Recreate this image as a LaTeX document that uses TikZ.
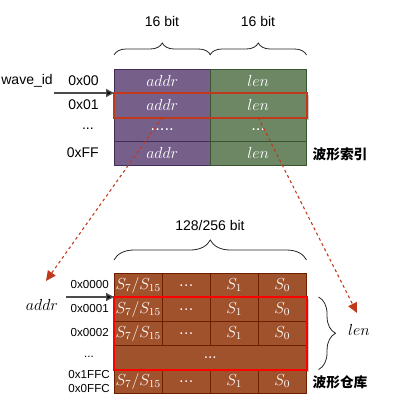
\documentclass[tikz,border=0pt]{standalone}
\usepackage{fontspec}
\setmainfont{Liberation Sans}
\newfontfamily\cjk{Noto Sans CJK SC}
\usetikzlibrary{arrows.meta,decorations.pathreplacing,backgrounds}

\definecolor{addrfill}{HTML}{76608A}
\definecolor{addrline}{HTML}{432D57}
\definecolor{lenfill}{HTML}{6D8764}
\definecolor{lenline}{HTML}{3A5431}
\definecolor{wavefill}{HTML}{A0522D}
\definecolor{waveline}{HTML}{6D1F00}
\definecolor{linkred}{HTML}{C0391B}
\definecolor{boxred}{HTML}{FF0000}

\tikzset{
  addrcell/.style={draw=addrline, fill=addrfill, text=white, anchor=north west,
    minimum width=72pt, minimum height=18pt, inner sep=0pt, font=\fontsize{12.5}{14}\selectfont},
  lencell/.style={addrcell, draw=lenline, fill=lenfill},
  wavecell/.style={draw=waveline, fill=wavefill, text=white, anchor=north west,
    minimum width=36pt, minimum height=18pt, inner sep=0pt, font=\fontsize{11.5}{13}\selectfont},
  bitlabel/.style={font=\fontsize{10.5}{12}\selectfont, inner sep=0pt},
  idlabel/.style={font=\fontsize{10.5}{12}\selectfont, inner sep=0pt, anchor=east},
  hexlabel/.style={font=\fontsize{8.7}{10}\selectfont, inner sep=0pt, anchor=east},
  namelabel/.style={font=\cjk\bfseries\fontsize{10.3}{12}\selectfont, inner sep=0pt},
  mathlabel/.style={font=\fontsize{12.5}{14}\selectfont, inner sep=0pt},
  bitbrace/.style={draw=black!85, line width=0.6pt, decorate, decoration={brace, amplitude=#1}},
  ptrarrow/.style={draw=black!70, line width=1pt, -{Triangle[length=6pt,width=6pt,fill=black]}},
  linkarrow/.style={draw=linkred, line width=0.8pt, dash pattern=on 2.2pt off 2.2pt,
    -{Triangle[length=7.5pt,width=7pt,fill=linkred]}},
}

\begin{document}
\begin{tikzpicture}[x=0.75pt,y=-0.75pt]
\useasboundingbox (0,0) rectangle (396,414);

% index table
\foreach \r/\y in {0/69, 1/93, 3/141} {
  \node[addrcell] (a\r) at (114,\y) {$addr$};
  \node[lencell] (l\r) at (210,\y) {$len$};
}
\node[addrcell] (a2) at (114,117) {.....};
\node[lencell] (l2) at (210,117) {...};

\node[bitlabel] (abits) at (162,21) {16 bit};
\node[bitlabel] (lbits) at (258,21) {16 bit};
\draw[bitbrace=9pt] ([yshift=10.5pt]a0.north west) -- ([yshift=10.5pt]a0.north east);
\draw[bitbrace=9pt] ([yshift=10.5pt]l0.north west) -- ([yshift=10.5pt]l0.north east);

\node[idlabel] (waveid) at (53,81) {wave\_id};
\node[idlabel] (id0) at (99,81) {0x00};
\node[idlabel] (id1) at (99,105) {0x01};
\node[idlabel] (id2) at (94,129) {...};
\node[idlabel] (id3) at (99,153) {0xFF};
\node[namelabel] (indexname) at (340,154) {波形索引};

\coordinate (idstart) at (54,93);
\draw[ptrarrow] (idstart) -- (a1.north west);

% wave storage
\foreach \r/\y in {0/273, 1/297, 2/321, 4/369} {
  \node[wavecell] (wa\r) at (114,\y) {$S_7/S_{15}$};
  \node[wavecell] (wb\r) at (162,\y) {\ldots};
  \node[wavecell] (wc\r) at (210,\y) {$S_1$};
  \node[wavecell] (wd\r) at (258,\y) {$S_0$};
}
\node[wavecell, minimum width=144pt] (w3) at (114,345) {...};

\node[bitlabel] (wbits) at (210,225) {128/256 bit};
\draw[bitbrace=15pt] ([yshift=9.75pt]wa0.north west) -- ([yshift=9.75pt]wd0.north east);

\node[hexlabel] (hex0) at (109,285) {0x0000};
\node[hexlabel] (hex1) at (109,309) {0x0001};
\node[hexlabel] (hex2) at (109,333) {0x0002};
\node[hexlabel] (hex3) at (94,357) {...};
\node[hexlabel] (hex4) at (110,375) {0x1FFC};
\node[hexlabel] (hex5) at (110,389) {0x0FFC};
\node[namelabel] (wavename) at (340,382) {波形仓库};

\node[mathlabel] (addrname) at (42,305) {$addr$};
\node[mathlabel] (lenname) at (359,330) {$len$};
\coordinate (addrstart) at (66,297);
\draw[ptrarrow] (addrstart) -- (wa1.north west);

\draw[bitbrace=12.75pt] ([xshift=9pt]wd1.north east) -- ([xshift=9pt]w3.south east);

% selected entry and its span
\begin{scope}[on background layer]
  \fill[black!20] ([xshift=1.5pt,yshift=-1.5pt]a1.north west) rectangle ([xshift=1.5pt,yshift=-1.5pt]l1.south east);
  \fill[black!20] ([xshift=1.5pt,yshift=-1.5pt]wa1.north west) rectangle ([xshift=1.5pt,yshift=-1.5pt]w3.south east);
\end{scope}
\draw[linkred, line width=1.5pt] (a1.north west) rectangle (l1.south east);
\draw[boxred, line width=1.5pt] (wa1.north west) rectangle (w3.south east);

\coordinate (addrtip) at (46,281);
\coordinate (lentip) at (357,313);
\draw[linkarrow] (a1.south) -- (addrtip);
\draw[linkarrow] (l1.south) -- (lentip);
\end{tikzpicture}
\end{document}
